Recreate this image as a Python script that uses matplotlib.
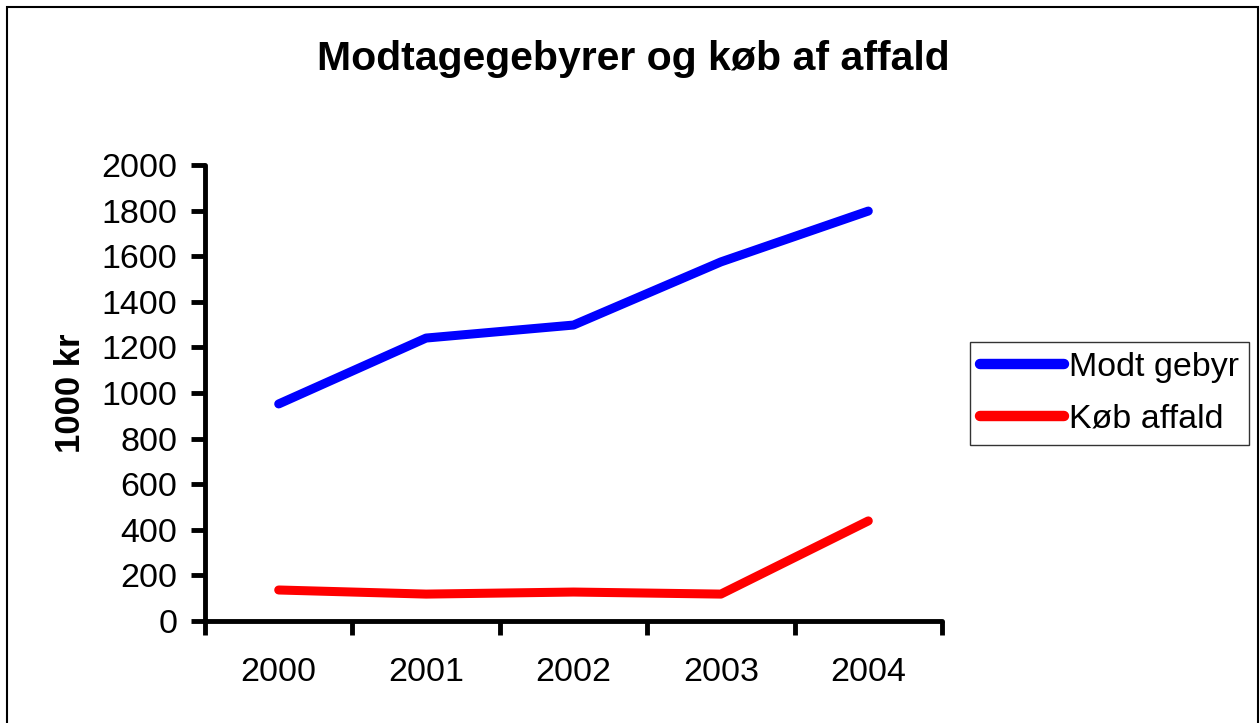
import matplotlib
matplotlib.use("Agg")
import matplotlib.pyplot as plt
from matplotlib.patches import Rectangle

years = ["2000", "2001", "2002", "2003", "2004"]
modt_gebyr = [952, 1241, 1298, 1575, 1798]
koeb_affald = [136, 118, 127, 118, 439]

plt.rcParams['font.family'] = ['Liberation Sans', 'DejaVu Sans']

fig = plt.figure(figsize=(12.6, 7.23), dpi=100)
fig.patches.append(Rectangle((7/1260, -0.02), 1251/1260, 716/723 + 0.02, transform=fig.transFigure,
                             fill=False, edgecolor='black', linewidth=1.5))

ax = fig.add_axes([205/1260, 102/723, 737/1260, 456/723])
x = list(range(len(years)))
ax.plot(x, modt_gebyr, color='#0000FF', linewidth=6.5, solid_capstyle='round', label='Modt gebyr')
ax.plot(x, koeb_affald, color='#FF0000', linewidth=6.5, solid_capstyle='round', label='Køb affald')

ax.set_xlim(-0.5, 4.5)
ax.set_ylim(0, 2000)
ax.set_yticks(range(0, 2001, 200))
ax.set_xticks([i - 0.5 for i in range(6)], minor=False)
ax.set_xticklabels([])
ax.set_xticks(x, minor=True)
ax.set_xticklabels(years, minor=True)
ax.tick_params(axis='x', which='minor', length=0, pad=26, labelsize=24.5)
ax.tick_params(axis='x', which='major', length=10, width=3.5, direction='out')
ax.tick_params(axis='y', length=10, width=3.5, direction='out', labelsize=24.5, pad=10)

for s in ['top', 'right']:
    ax.spines[s].set_visible(False)
for s in ['left', 'bottom']:
    ax.spines[s].set_linewidth(3.5)
    ax.spines[s].set_capstyle('round')

ax.set_ylabel('1000 kr', fontsize=25, fontweight='bold', labelpad=10)
fig.suptitle('Modtagegebyrer og køb af affald', fontsize=29.5, fontweight='bold', x=633/1260, y=0.944)

leg = ax.legend(loc='upper left', bbox_to_anchor=(970/1260, 1 - 342/723), bbox_transform=fig.transFigure,
                fontsize=24.5, frameon=True, fancybox=False, edgecolor='black', handlelength=2.45,
                handletextpad=0.15, borderpad=0.3, labelspacing=0.6, borderaxespad=0)
leg.get_frame().set_linewidth(1)
for line in leg.get_lines():
    line.set_linewidth(7.5)

fig.savefig('out.png', dpi=100)
